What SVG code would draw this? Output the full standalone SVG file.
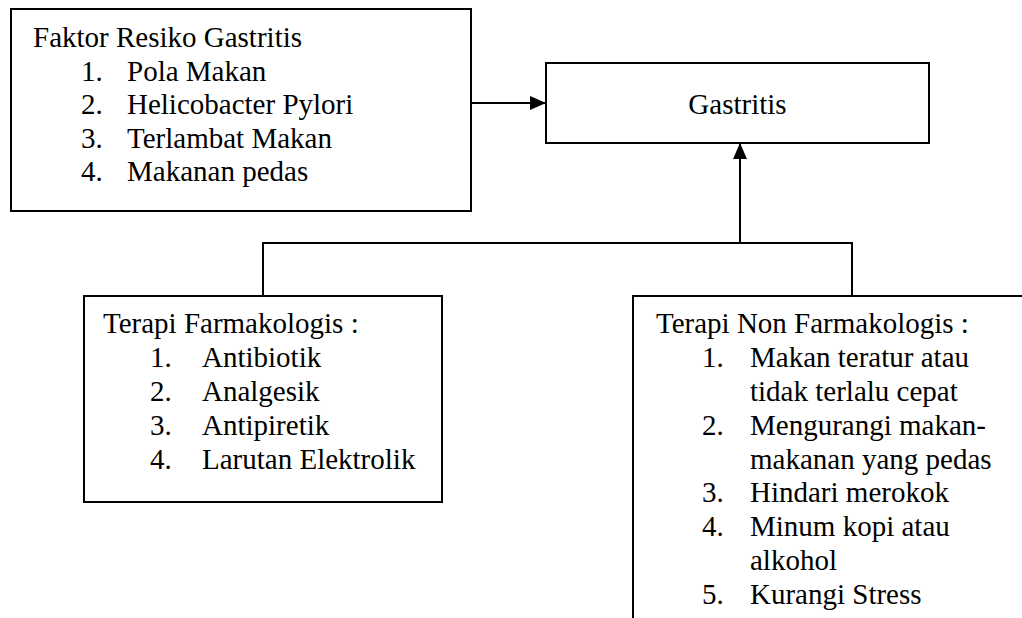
<svg xmlns="http://www.w3.org/2000/svg" width="1022" height="618" viewBox="0 0 1022 618">
<style>
.box{fill:#fff;stroke:#000;stroke-width:2}
.t{font-size:29px;fill:#000}
.ln{fill:none;stroke:#000;stroke-width:2}
</style>
<defs>
<marker id="arr" markerWidth="16" markerHeight="14" refX="16" refY="7" orient="auto" markerUnits="userSpaceOnUse">
<path d="M0,0 L16,7 L0,14 Z" fill="#000"/>
</marker>
</defs>
<rect width="1022" height="618" fill="#fff"/>
<g font-family="'Liberation Serif', 'Times New Roman', Times, serif">
<g id="faktor">
<rect class="box" x="11" y="9" width="460" height="202"/>
<text class="t" x="33" y="47">Faktor Resiko Gastritis</text>
<text class="t" x="81" y="80.5">1.</text><text class="t" x="127" y="80.5">Pola Makan</text>
<text class="t" x="81" y="114">2.</text><text class="t" x="127" y="114">Helicobacter Pylori</text>
<text class="t" x="81" y="147.5">3.</text><text class="t" x="127" y="147.5">Terlambat Makan</text>
<text class="t" x="81" y="181">4.</text><text class="t" x="127" y="181">Makanan pedas</text>
</g>
<g id="gastritis">
<rect class="box" x="546" y="63" width="383" height="80"/>
<text class="t" x="737.5" y="114" text-anchor="middle">Gastritis</text>
</g>
<g id="farmakologis">
<rect class="box" x="84" y="296" width="358" height="206"/>
<text class="t" x="103" y="333">Terapi Farmakologis :</text>
<text class="t" x="150" y="366.9">1.</text><text class="t" x="202" y="366.9">Antibiotik</text>
<text class="t" x="150" y="400.8">2.</text><text class="t" x="202" y="400.8">Analgesik</text>
<text class="t" x="150" y="434.6">3.</text><text class="t" x="202" y="434.6">Antipiretik</text>
<text class="t" x="150" y="468.5">4.</text><text class="t" x="202" y="468.5">Larutan Elektrolik</text>
</g>
<g id="nonfarmakologis">
<rect class="box" x="633" y="296" width="420" height="360"/>
<text class="t" x="656" y="333">Terapi Non Farmakologis :</text>
<text class="t" x="702" y="366.9">1.</text><text class="t" x="750" y="366.9">Makan teratur atau</text>
<text class="t" x="750" y="400.8">tidak terlalu cepat</text>
<text class="t" x="702" y="434.6">2.</text><text class="t" x="750" y="434.6">Mengurangi makan-</text>
<text class="t" x="750" y="468.5">makanan yang pedas</text>
<text class="t" x="702" y="502.4">3.</text><text class="t" x="750" y="502.4">Hindari merokok</text>
<text class="t" x="702" y="536.3">4.</text><text class="t" x="750" y="536.3">Minum kopi atau</text>
<text class="t" x="750" y="570.1">alkohol</text>
<text class="t" x="702" y="604">5.</text><text class="t" x="750" y="604">Kurangi Stress</text>
</g>
</g>
<g id="connectors">
<line class="ln" x1="471" y1="103" x2="546" y2="103" marker-end="url(#arr)"/>
<polyline class="ln" points="263,296 263,243 852,243 852,296"/>
<line class="ln" x1="740" y1="243" x2="740" y2="143" marker-end="url(#arr)"/>
</g>
</svg>
